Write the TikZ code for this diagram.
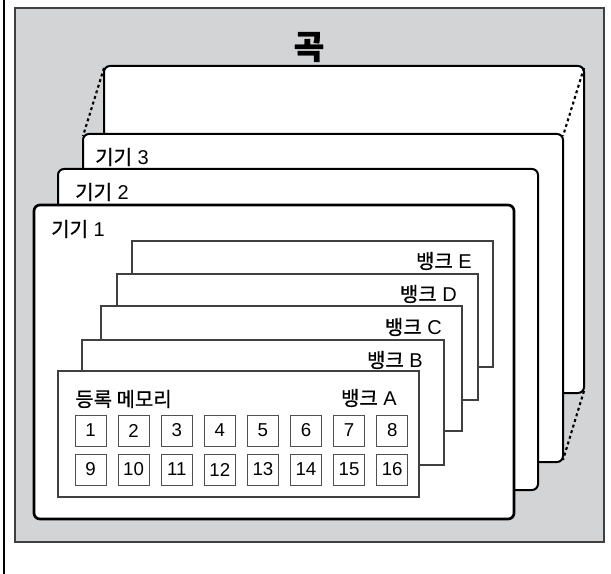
\documentclass[tikz,border=0pt]{standalone}
\usepackage{fontspec}
\setmainfont{Liberation Sans}
\newfontfamily\krfont[FakeBold=0.7]{Noto Sans CJK KR}
\usetikzlibrary{positioning}
\definecolor{panelgrey}{RGB}{211,212,214}
\definecolor{edgegrey}{RGB}{64,64,64}
\definecolor{cellgrey}{RGB}{80,80,80}
\tikzset{
  card/.style={draw=black,fill=white,line width=1.5pt,rounded corners=4.5pt},
  bankbox/.style={draw=edgegrey,fill=white,line width=0.8pt},
  cell/.style={draw=cellgrey,line width=0.7pt,minimum size=23.25pt,inner sep=0pt,
    font=\fontsize{14}{16}\selectfont},
  lbl/.style={inner sep=0pt,font=\fontsize{15}{18}\selectfont},
  link/.style={line width=1.6pt,dash pattern=on 2.2pt off 2.2pt}
}
\newcommand{\ko}[1]{{\krfont #1}}

\begin{document}
\begin{tikzpicture}[x=0.75pt,y=-0.75pt]
        \useasboundingbox (0,0) rectangle (611,574);
        % frame and grey panel
        \draw[line width=1.5pt] (4,0) -- (4,574);
        \draw[edgegrey,fill=panelgrey,line width=0.9pt] (15,8) rectangle (604,542);
        \node[inner sep=0pt,font=\fontsize{25}{27}\selectfont\krfont\bfseries] (song) at (309,47) {곡};
        % back card and the dotted links to device 3
        \draw[card] (104,66) rectangle (584,393);
        \coordinate (backNW) at (104,68);
        \coordinate (backNE) at (584,68);
        \coordinate (backSE) at (584,391);
        \coordinate (devNW) at (83,136);
        \coordinate (devNE) at (563,136);
        \coordinate (devSE) at (563,460);
        \draw[link] (backNW) -- (devNW);
        \draw[link] (backNE) -- (devNE);
        \draw[link] (backSE) -- (devSE);
        % devices
        \draw[card] (83,134) rectangle (563,462);
        \node[lbl,anchor=west] (dev3) at (95,157) {\ko{기기} 3};
        \draw[card] (58,169) rectangle (538,490);
        \node[lbl,anchor=west] (dev2) at (75,192) {\ko{기기} 2};
        \draw[card,line width=2pt] (34,205) rectangle (514,519);
        \node[lbl,anchor=west] (dev1) at (51,229) {\ko{기기} 1};
        % banks
        \draw[bankbox] (132,241) rectangle (493,367);
        \node[lbl,anchor=east] (bankE) at (472,261) {\ko{뱅크} E};
        \draw[bankbox] (117,274) rectangle (478,400);
        \node[lbl,anchor=east] (bankD) at (457,294) {\ko{뱅크} D};
        \draw[bankbox] (101,306) rectangle (462,431);
        \node[lbl,anchor=east] (bankC) at (442,327) {\ko{뱅크} C};
        \draw[bankbox] (82,340) rectangle (444,465);
        \node[lbl,anchor=east] (bankB) at (423,360) {\ko{뱅크} B};
        \draw[bankbox] (58,371) rectangle (419,497);
        \node[lbl,anchor=east] (bankA) at (397,398) {\ko{뱅크} A};
        \node[lbl,anchor=west] (regmem) at (75,399) {\ko{등록 메모리}};
        % registration memory cells
        \foreach \i [evaluate=\i as \j using int(\i+8)] in {1,...,8}{
          \node[cell] (c\i) at ({90.5+43.1*(\i-1)},430.5) {\i};
          \node[cell] (c\j) at ({90.5+43.1*(\i-1)},469.5) {\j};
        }
      \end{tikzpicture}
\end{document}
